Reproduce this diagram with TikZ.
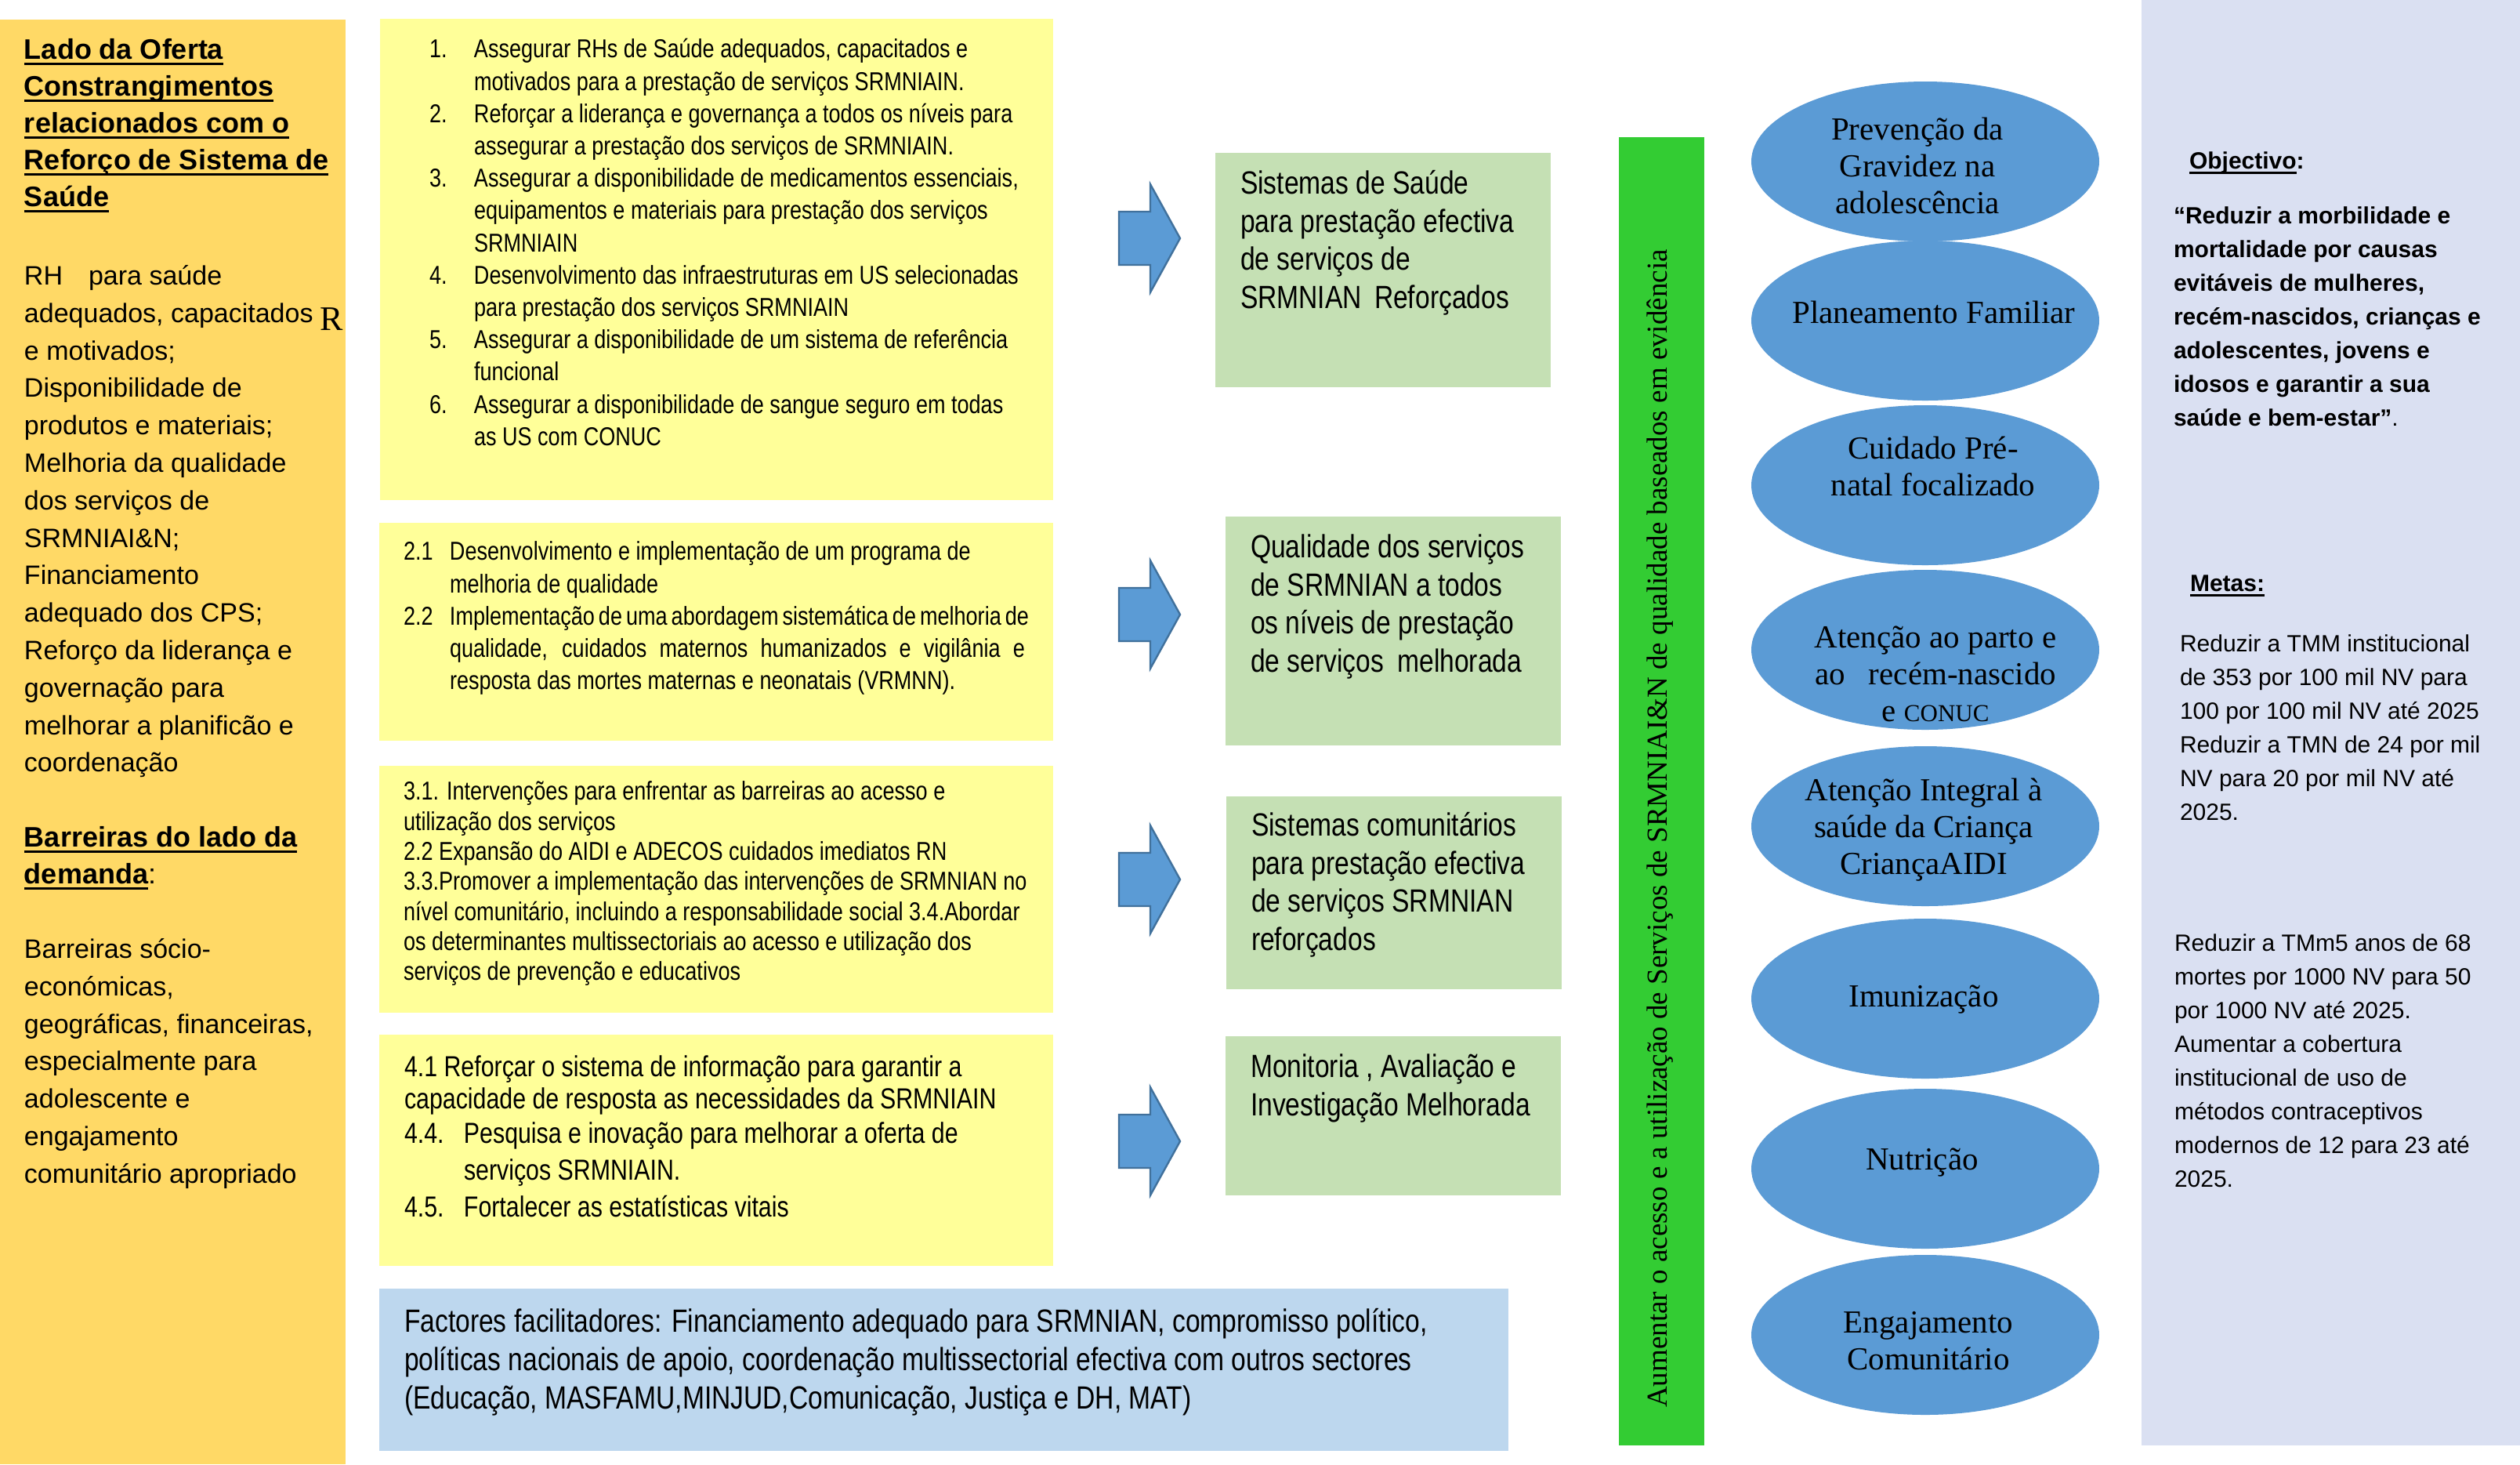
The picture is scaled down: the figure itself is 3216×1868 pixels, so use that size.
\documentclass[tikz,border=0pt]{standalone}
\usepackage{fontspec}
\setmainfont{Liberation Serif}
\newfontfamily\arialfont{Liberation Sans}
\newfontfamily\narrowfont[FakeStretch=0.82]{Liberation Sans}
\newfontfamily\timesfont{Liberation Serif}
\usetikzlibrary{shapes.geometric}

% underline at a fixed depth below the baseline
\newcommand\uln[1]{\setbox0\hbox{#1}\rlap{\rule[-1.7pt]{\wd0}{0.7pt}}\box0}

\definecolor{orangebg}{HTML}{FFD966}
\definecolor{yellowbg}{HTML}{FFFF99}
\definecolor{greenbg}{HTML}{C5E0B4}
\definecolor{factorbg}{HTML}{BDD7EE}
\definecolor{lavbg}{HTML}{DAE0F2}
\definecolor{bargreen}{HTML}{33CC33}
\definecolor{ellblue}{HTML}{5B9BD5}
\definecolor{arrowline}{HTML}{41719C}

\begin{document}
\begin{tikzpicture}[x=0.25pt,y=-0.25pt,
  box/.style={inner sep=0pt, outer sep=0pt, anchor=north west, draw=none},
  txt/.style={inner sep=0pt, outer sep=0pt, anchor=north west, align=left},
  ell/.style={ellipse, fill=ellblue, draw=none, inner sep=0pt,
    minimum width=111pt, minimum height=51pt},
  elltxt/.style={inner sep=0pt, anchor=north, align=center,
    font=\timesfont\fontsize{10.25}{11.75}\selectfont},
  blockarr/.style={fill=ellblue, draw=arrowline, line width=0.6pt, line join=miter},
  lefthead/.style={txt, font=\arialfont\bfseries\fontsize{9}{11.75}\selectfont},
  leftbody/.style={txt, font=\arialfont\fontsize{8.5}{11.95}\selectfont},
  listtxt/.style={txt, font=\narrowfont\fontsize{8.25}{10.3}\selectfont},
  greentxt/.style={txt, font=\narrowfont\fontsize{10.25}{12.1}\selectfont},
  goaltxt/.style={txt, font=\arialfont\fontsize{7.5}{10.75}\selectfont},
]
% page
\path[use as bounding box, fill=white] (0,0) rectangle (3216,1868);

% background panels
\node[box, fill=orangebg, minimum width=441*0.25pt, minimum height=1843*0.25pt] (supply) at (0,25) {};
\node[box, fill=lavbg, minimum width=483*0.25pt, minimum height=1844*0.25pt] (goals) at (2733,0) {};
\node[box, fill=yellowbg, minimum width=859*0.25pt, minimum height=614*0.25pt] (y1) at (485,24) {};
\node[box, fill=yellowbg, minimum width=860*0.25pt, minimum height=278*0.25pt] (y2) at (484,667) {};
\node[box, fill=yellowbg, minimum width=860*0.25pt, minimum height=315*0.25pt] (y3) at (484,977) {};
\node[box, fill=yellowbg, minimum width=860*0.25pt, minimum height=295*0.25pt] (y4) at (484,1320) {};
\node[box, fill=factorbg, minimum width=1441*0.25pt, minimum height=207*0.25pt] (fac) at (484,1644) {};
\node[box, fill=greenbg, minimum width=428*0.25pt, minimum height=299*0.25pt] (g1) at (1551,195) {};
\node[box, fill=greenbg, minimum width=428*0.25pt, minimum height=292*0.25pt] (g2) at (1564,659) {};
\node[box, fill=greenbg, minimum width=428*0.25pt, minimum height=246*0.25pt] (g3) at (1565,1016) {};
\node[box, fill=greenbg, minimum width=428*0.25pt, minimum height=203*0.25pt] (g4) at (1564,1322) {};
\node[box, fill=bargreen, minimum width=109*0.25pt, minimum height=1669*0.25pt] (bar) at (2066,175) {};

% left column: supply and demand constraints
\node[lefthead] (head1) at (31,43) {\strut\uln{Lado da Oferta}\\
  \uln{Constrangimentos}\\ \uln{relacionados com o}\\
  \uln{Reforço de Sistema de}\\ \uln{Saúde}};
\node[leftbody] (body1) at (31,330) {\strut RH\hspace{8.25pt}para saúde\\
  adequados, capacitados\\ e motivados;\\ Disponibilidade de\\
  produtos e materiais;\\ Melhoria da qualidade\\ dos serviços de\\
  SRMNIAI\&N;\\ Financiamento\\ adequado dos CPS;\\
  Reforço da liderança e\\ governação para\\ melhorar a planificão e\\ coordenação};
\node[txt, font=\timesfont\fontsize{11}{13}\selectfont, anchor=base west] (rmark) at (408,421) {R};
\node[lefthead] (head2) at (31,1048) {\strut\uln{Barreiras do lado da}\\
  \uln{demanda}{\mdseries :}};
\node[leftbody] (body2) at (31,1189) {\strut Barreiras sócio-\\ económicas,\\
  geográficas, financeiras,\\ especialmente para\\ adolescente e\\
  engajamento\\ comunitário apropriado};

% intervention lists
\node[listtxt] (l1) at (548,45) {\begin{tabular}{@{}p{14.25pt}@{}l@{}}
1. & Assegurar RHs de Saúde adequados, capacitados e\\
   & motivados para a prestação de serviços SRMNIAIN.\\
2. & Reforçar a liderança e governança a todos os níveis para\\
   & assegurar a prestação dos serviços de SRMNIAIN.\\
3. & Assegurar a disponibilidade de medicamentos essenciais,\\
   & equipamentos e materiais para prestação dos serviços\\
   & SRMNIAIN\\
4. & Desenvolvimento das infraestruturas em US selecionadas\\
   & para prestação dos serviços SRMNIAIN\\
5. & Assegurar a disponibilidade de um sistema de referência\\
   & funcional\\
6. & Assegurar a disponibilidade de sangue seguro em todas\\
   & as US com CONUC
\end{tabular}};

\node[listtxt] (l2) at (515,686) {\begin{tabular}{@{}p{14.75pt}@{}l@{}}
2.1 & Desenvolvimento e implementação de um programa de\\
    & melhoria de qualidade\\
2.2 & \makebox[183.5pt][s]{Implementação de uma abordagem sistemática de melhoria de}\\
    & \makebox[183.5pt][s]{qualidade, cuidados maternos humanizados e vigilânia e}\\
    & resposta das mortes maternas e neonatais (VRMNN).
\end{tabular}};

\node[txt, font=\narrowfont\fontsize{8.25}{9.58}\selectfont] (l3) at (515,994) {\strut
3.1. Intervenções para enfrentar as barreiras ao acesso e\\
utilização dos serviços\\
2.2 Expansão do AIDI e ADECOS cuidados imediatos RN\\
3.3.Promover a implementação das intervenções de SRMNIAN no\\
nível comunitário, incluindo a responsabilidade social 3.4.Abordar\\
os determinantes multissectoriais ao acesso e utilização dos\\
serviços de prevenção e educativos};

\node[txt, font=\narrowfont\fontsize{9.25}{10.25}\selectfont] (l4) at (516,1345) {\begin{tabular}{@{}p{19pt}@{}l@{}}
\multicolumn{2}{@{}l@{}}{4.1 Reforçar o sistema de informação para garantir a}\\
\multicolumn{2}{@{}l@{}}{capacidade de resposta as necessidades da SRMNIAIN}\\[0.75pt]
4.4. & Pesquisa e inovação para melhorar a oferta de\\[1.5pt]
     & serviços SRMNIAIN.\\[1.5pt]
4.5. & Fortalecer as estatísticas vitais
\end{tabular}};

\node[txt, font=\narrowfont\fontsize{10.25}{12.25}\selectfont] (factxt) at (516,1665) {\strut
Factores facilitadores: Financiamento adequado para SRMNIAN, compromisso político,\\
políticas nacionais de apoio, coordenação multissectorial efectiva com outros sectores\\
(Educação, MASFAMU,MINJUD,Comunicação, Justiça e DH, MAT)};

% block arrows between lists and results
\foreach \ay in {304,784,1122,1456}
  \draw[blockarr, shift={(1468,\ay)}] (-40,-34) -- (0,-34) -- (0,-69) -- (38,0)
    -- (0,69) -- (0,34) -- (-40,34) -- cycle;

% expected results
\node[greentxt] (g1t) at (1583,214) {\strut Sistemas de Saúde\\ para prestação efectiva\\
  de serviços de\\ SRMNIAN\hspace{4pt}Reforçados};
\node[greentxt] (g2t) at (1596,678) {\strut Qualidade dos serviços\\ de SRMNIAN a todos\\
  os níveis de prestação\\ de serviços\hspace{2pt} melhorada};
\node[greentxt] (g3t) at (1597,1033) {\strut Sistemas comunitários\\ para prestação efectiva\\
  de serviços SRMNIAN\\ reforçados};
\node[greentxt] (g4t) at (1596,1341) {\strut Monitoria , Avaliação e\\ Investigação Melhorada};

% vertical strategic axis
\node[inner sep=0pt, rotate=90, font=\timesfont\fontsize{9.25}{11}\selectfont] (bart) at (2119,1057)
  {Aumentar o acesso e a utilização de Serviços de SRMNIAI\&N de qualidade baseados em evidência};

% service areas
\node[ell] (e1) at (2457,206) {};
\node[ell] (e2) at (2457,409) {};
\node[ell] (e3) at (2457,619) {};
\node[ell] (e4) at (2457,829) {};
\node[ell] (e5) at (2457,1054) {};
\node[ell] (e6) at (2457,1274) {};
\node[ell] (e7) at (2457,1491) {};
\node[ell] (e8) at (2457,1703) {};
\node[elltxt] (e1t) at (2447,145) {\strut Prevenção da\\ Gravidez na\\ adolescência};
\node[elltxt] (e2t) at (2468,379) {\strut Planeamento Familiar};
\node[elltxt] (e3t) at (2467,552) {\strut Cuidado Pré-\\ natal focalizado};
\node[elltxt] (e4t) at (2470,793) {\strut Atenção ao parto e\\ ao\hspace{5pt} recém-nascido\\
  e {\fontsize{7.75}{11.75}\selectfont CONUC}};
\node[elltxt] (e5t) at (2455,988) {\strut Atenção Integral à\\ saúde da Criança\\ CriançaAIDI};
\node[elltxt] (e6t) at (2455,1251) {\strut Imunização};
\node[elltxt] (e7t) at (2453,1459) {\strut Nutrição};
\node[elltxt] (e8t) at (2461,1667) {\strut Engajamento\\ Comunitário};

% objective and targets
\node[goaltxt, font=\arialfont\bfseries\fontsize{7.5}{10.75}\selectfont] (objh) at (2794,185)
  {\strut\uln{Objectivo}:};
\node[goaltxt, font=\arialfont\bfseries\fontsize{7.5}{10.75}\selectfont] (obj) at (2774,255)
  {\strut “Reduzir a morbilidade e\\ mortalidade por causas\\ evitáveis de mulheres,\\
  recém-nascidos, crianças e\\ adolescentes, jovens e\\ idosos e garantir a sua\\
  saúde e bem-estar”{\mdseries .}};
\node[goaltxt, font=\arialfont\bfseries\fontsize{7.5}{10.75}\selectfont] (metah) at (2795,724)
  {\strut\uln{Metas:}};
\node[goaltxt] (meta1) at (2782,801) {\strut Reduzir a TMM institucional\\
  de 353 por 100 mil NV para\\ 100 por 100 mil NV até 2025\\
  Reduzir a TMN de 24 por mil\\ NV para 20 por mil NV até\\ 2025.};
\node[goaltxt] (meta2) at (2775,1183) {\strut Reduzir a TMm5 anos de 68\\
  mortes por 1000 NV para 50\\ por 1000 NV até 2025.\\ Aumentar a cobertura\\
  institucional de uso de\\ métodos contraceptivos\\ modernos de 12 para 23 até\\ 2025.};
\end{tikzpicture}
\end{document}
